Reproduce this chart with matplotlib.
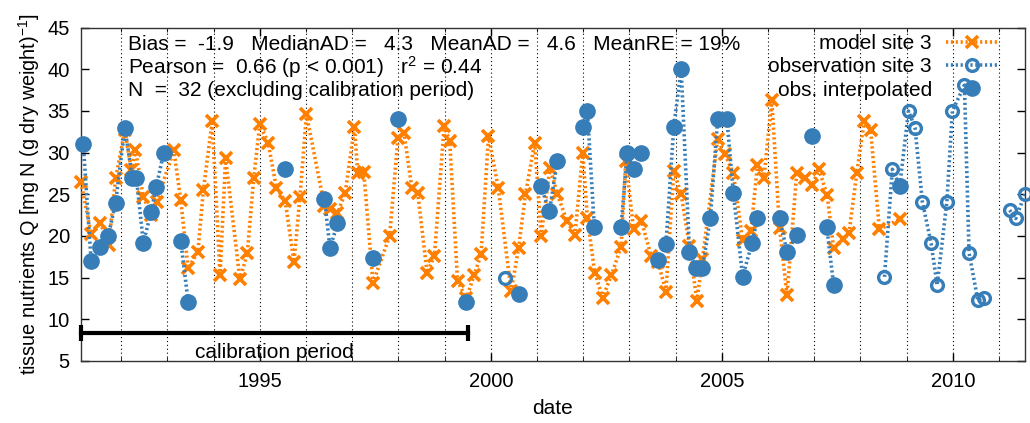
import numpy as np
import pandas as pd
import matplotlib
matplotlib.use("Agg")
import matplotlib.pyplot as plt
from matplotlib.ticker import MultipleLocator, FixedLocator

plt.rcParams['font.family'] = ['Liberation Sans', 'DejaVu Sans']
plt.rcParams['mathtext.default'] = 'regular'

# model site 3 (decimal year, tissue N)
model_year = [1991.13, 1991.35, 1991.55, 1991.73, 1991.88, 1992.08, 1992.22, 1992.31,
              1992.48, 1992.65, 1992.77, 1993.14, 1993.29, 1993.45, 1993.66, 1993.78,
              1993.97, 1994.14, 1994.26, 1994.57, 1994.73, 1994.87, 1995.00, 1995.18,
              1995.36, 1995.55, 1995.74, 1995.87, 1996.01, 1996.40, 1996.52, 1996.68,
              1996.85, 1997.05, 1997.12, 1997.25, 1997.45, 1997.81, 1997.99, 1998.12,
              1998.29, 1998.42, 1998.62, 1998.78, 1998.99, 1999.11, 1999.28, 1999.47,
              1999.64, 1999.79, 1999.95, 2000.16, 2000.44, 2000.60, 2000.75, 2000.95,
              2001.09, 2001.28, 2001.44, 2001.65, 2001.82, 2001.99, 2002.09, 2002.25,
              2002.42, 2002.61, 2002.82, 2002.92, 2003.09, 2003.26, 2003.47, 2003.62,
              2003.79, 2003.96, 2004.12, 2004.30, 2004.46, 2004.58, 2004.91, 2005.07,
              2005.25, 2005.45, 2005.63, 2005.77, 2005.91, 2006.08, 2006.25, 2006.41,
              2006.62, 2006.80, 2006.96, 2007.10, 2007.28, 2007.42, 2007.63, 2007.75,
              2007.92, 2008.08, 2008.22, 2008.41, 2008.85]
model_q = [26.5, 20.2, 21.6, 18.9, 26.9, 32.7, 27.9, 30.3,
           24.7, 22.5, 24.1, 30.3, 24.3, 16.1, 18.1, 25.5,
           33.8, 15.3, 29.3, 14.8, 17.9, 27.0, 33.4, 31.2,
           25.8, 24.2, 16.9, 24.7, 34.6, 23.6, 23.2, 22.7,
           25.2, 33.1, 27.5, 27.7, 14.4, 20.0, 31.7, 32.4,
           25.8, 25.1, 15.6, 17.6, 33.2, 31.4, 14.6, 12.5,
           15.3, 17.8, 32.0, 25.8, 13.4, 18.5, 25.0, 31.2,
           20.0, 28.2, 25.0, 21.8, 20.1, 30.0, 22.1, 15.6,
           12.6, 15.3, 18.7, 29.0, 20.8, 21.8, 17.6, 16.9,
           13.3, 27.8, 25.0, 18.8, 12.2, 17.2, 31.6, 29.8,
           27.5, 19.5, 20.6, 28.5, 26.9, 36.3, 20.9, 12.9,
           27.5, 27.0, 26.1, 28.0, 24.9, 18.5, 19.6, 20.3,
           27.5, 33.8, 32.7, 20.8, 22.0]

# observation site 3; segment = unbroken runs of the dotted line,
# interp = 1 where the obs was interpolated to a model date
obs_year = [1991.18, 1991.35, 1991.55, 1991.72, 1991.88, 1992.08, 1992.24, 1992.33,
            1992.48, 1992.65, 1992.76, 1992.92,
            1993.29, 1993.45,
            1995.54,
            1996.40, 1996.52, 1996.68,
            1997.45,
            1997.99,
            1999.47,
            2000.31,
            2000.60,
            2001.08, 2001.27, 2001.44,
            2001.99, 2002.09, 2002.24,
            2002.82, 2002.95, 2003.09,
            2003.26,
            2003.62, 2003.79, 2003.96, 2004.12, 2004.30, 2004.44, 2004.58, 2004.75,
            2004.91, 2005.11, 2005.25, 2005.45, 2005.65, 2005.77,
            2006.25, 2006.41, 2006.62,
            2006.96,
            2007.27, 2007.42,
            2008.52, 2008.69, 2008.85, 2009.04, 2009.18, 2009.34, 2009.53, 2009.66,
            2009.87, 2009.99, 2010.25, 2010.35, 2010.54, 2010.68,
            2011.23, 2011.36, 2011.56]
obs_q = [31.0, 17.0, 18.7, 20.0, 24.0, 33.0, 27.0, 27.0,
         19.2, 22.9, 25.9, 30.0,
         19.4, 12.1,
         28.0,
         24.4, 18.5, 21.5,
         17.4,
         34.0,
         12.1,
         14.9,
         13.0,
         26.0, 23.0, 29.0,
         33.1, 35.0, 21.1,
         21.1, 30.0, 28.0,
         30.0,
         17.1, 19.0, 33.1, 40.0, 18.1, 16.1, 16.1, 22.1,
         34.0, 34.0, 25.1, 15.1, 19.1, 22.1,
         22.1, 18.1, 20.1,
         32.0,
         21.1, 14.1,
         15.1, 28.0, 26.0, 35.0, 33.0, 24.1, 19.1, 14.1,
         24.1, 35.0, 38.1, 18.0, 12.3, 12.6,
         23.1, 22.1, 25.0]
obs_segment = [0] * 12 + [1] * 2 + [2] + [3] * 3 + [4] + [5] + [6] + [7] + [8] + \
              [9] * 3 + [10] * 3 + [11] * 3 + [12] + [13] * 14 + [14] * 3 + [15] + \
              [16] * 2 + [17] * 14 + [18] * 3
obs_interp = [1] * 21 + [0] + [1] * 31 + [0, 0, 1] + [0] * 14

calib_start = 1991.13
calib_end = 1999.51
calib_level = 8.4

stats_lines = ["Bias =  -1.9   MedianAD =   4.3   MeanAD =   4.6   MeanRE = 19%",
               "Pearson =  0.66 (p < 0.001)   r$^2$ = 0.44",
               "N  =  32 (excluding calibration period)"]

orange = '#ff7f00'
blue = '#377eb8'
dots = (0, (0.6, 0.75))

model = pd.DataFrame({'year': model_year, 'q': model_q})
obs = pd.DataFrame({'year': obs_year, 'q': obs_q, 'seg': obs_segment, 'interp': obs_interp})

fig = plt.figure(figsize=(10.30, 4.23), dpi=100)
ax = fig.add_axes([0.0786, 0.1466, 0.9165, 0.788])

h_model, = ax.plot(model.year, model.q, color=orange, ls=dots, lw=2.6,
                   marker='x', ms=9, mew=2.6, clip_on=False, zorder=3,
                   label='model site 3')

for seg, grp in obs.groupby('seg'):
    ax.plot(grp.year, grp.q, color=blue, ls=dots, lw=2.6, zorder=4)
ax.plot(obs.year, obs.q, ls='none', marker='o', ms=8.5, mew=2.4, mfc='none',
        mec=blue, clip_on=False, zorder=5)
h_obs, = ax.plot([], [], color=blue, ls=dots, lw=2.6, marker='o', ms=8.5, mew=2.4,
                 mfc='none', mec=blue, label='observation site 3')
interp = obs[obs.interp == 1]
h_int, = ax.plot(interp.year, interp.q, ls='none', marker='o', ms=11, color=blue,
                 mec=blue, clip_on=False, zorder=6, label='obs. interpolated')

# calibration period bar
ax.plot([calib_start, calib_end], [calib_level, calib_level], color='black', lw=3,
        marker='|', ms=12, mew=3, clip_on=False, zorder=7)
ax.text((calib_start + calib_end) / 2, calib_level - 2.35, 'calibration period',
        ha='center', va='center', fontsize=15)

ax.set_xlim(min(model_year + obs_year), max(model_year + obs_year))
ax.set_ylim(5, 45)
ax.yaxis.set_major_locator(MultipleLocator(5))
ax.xaxis.set_major_locator(FixedLocator([1995, 2000, 2005, 2010]))
ax.xaxis.set_minor_locator(MultipleLocator(1))
ax.xaxis.set_major_formatter(lambda v, p: '%d' % v)
ax.tick_params(direction='in', top=True, right=True, labelsize=14.5, length=6, width=1)
ax.tick_params(axis='x', which='minor', direction='in', top=True, length=3)
ax.tick_params(axis='y', pad=8)
ax.tick_params(axis='x', pad=8)
ax.grid(True, axis='x', which='both', color='black', ls=(0, (1, 2.5)), lw=0.8)
for sp in ax.spines.values():
    sp.set_linewidth(1.0)
    sp.set_color('#333333')

ax.set_xlabel('date', fontsize=15, labelpad=6)
ax.set_ylabel('tissue nutrients Q [mg N (g dry weight)$^{-1}$]', fontsize=14.3, labelpad=4)

for line, ypos in zip(stats_lines, [0.948, 0.883, 0.812]):
    ax.text(0.05, ypos, line, transform=ax.transAxes, ha='left', va='center',
            fontsize=15, zorder=10)

leg = ax.legend(handles=[h_model, h_obs, h_int], loc='upper right',
                bbox_to_anchor=(0.972, 0.98), frameon=False, markerfirst=False,
                fontsize=15, handlelength=2.5, handletextpad=0.7, labelspacing=0.2,
                borderpad=0, borderaxespad=0)

fig.savefig('out.png', dpi=100)
